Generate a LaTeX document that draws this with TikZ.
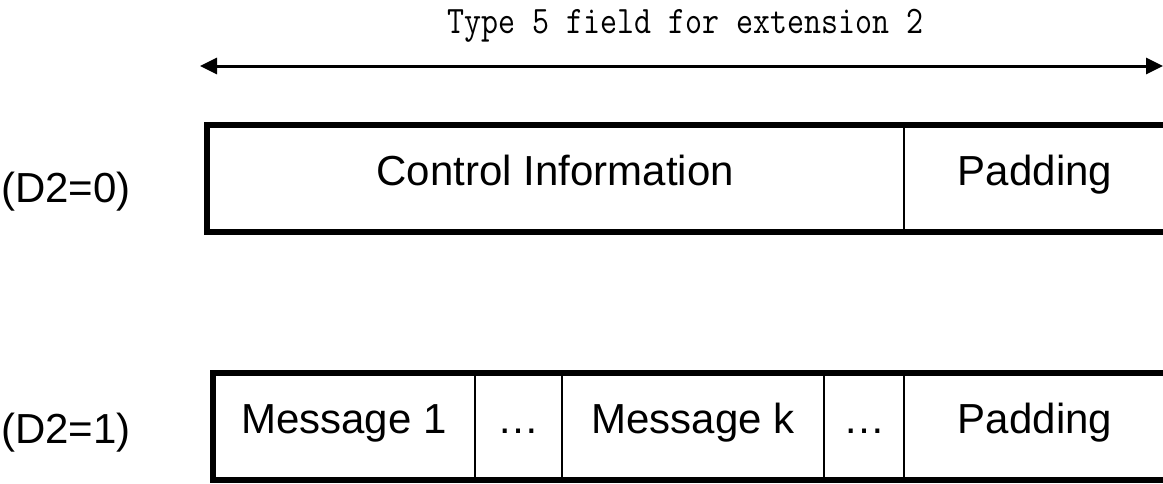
\documentclass[tikz,border=0pt]{standalone}
\usepackage{fontspec}
\usepackage{graphicx}
\setmainfont{Liberation Sans}
\usetikzlibrary{arrows.meta}
\begin{document}
\begin{tikzpicture}[x=1pt,y=-1pt,
  cell/.style={draw, line width=2pt, inner sep=0pt, outer sep=0pt,
    minimum height=107pt, text height=30pt, text depth=16pt,
    font=\fontsize{42}{50}\selectfont, anchor=west},
  frame/.style={line width=6pt},
  lbl/.style={font=\fontsize{42}{50}\selectfont, anchor=base},
  ttl/.style={font=\ttfamily\fontsize{33}{40}\selectfont, anchor=base},
  span/.style={line width=3pt,
    {Triangle[length=17pt,width=16pt]}-{Triangle[length=17pt,width=16pt]}}]
\useasboundingbox (0,0) rectangle (1163,483);

% title and span arrow
\node[ttl] (title) at (685.5,33) {\scalebox{1}[1.18]{Type 5 field for extension 2}};
\coordinate (aL) at (200,66);
\coordinate (aR) at (1163,66);
\draw[span] (aL) -- (aR);

% row labels
\node[lbl] (l0) at (66,202) {(D2=0)};
\node[lbl] (l1) at (66,443) {(D2=1)};

% top row (D2=0)
\node[cell, minimum width=697.5pt] (ctrl) at (206.5,178) {Control Information};
\node[cell, minimum width=262pt] (pad) at (ctrl.east) {Padding};
\draw[frame] (pad.north east) -- (ctrl.north west) -- (ctrl.south west) -- (pad.south east);

% bottom row (D2=1)
\node[cell, minimum width=262.5pt] (m1) at (212.5,426.5) {Message 1};
\node[cell, minimum width=87pt] (d1) at (m1.east) {…};
\node[cell, minimum width=262pt] (mk) at (d1.east) {Message k};
\node[cell, minimum width=80pt] (d2) at (mk.east) {…};
\node[cell, minimum width=262pt] (pad2) at (d2.east) {Padding};
\draw[frame] (pad2.north east) -- (m1.north west) -- (m1.south west) -- (pad2.south east);
\end{tikzpicture}
\end{document}
